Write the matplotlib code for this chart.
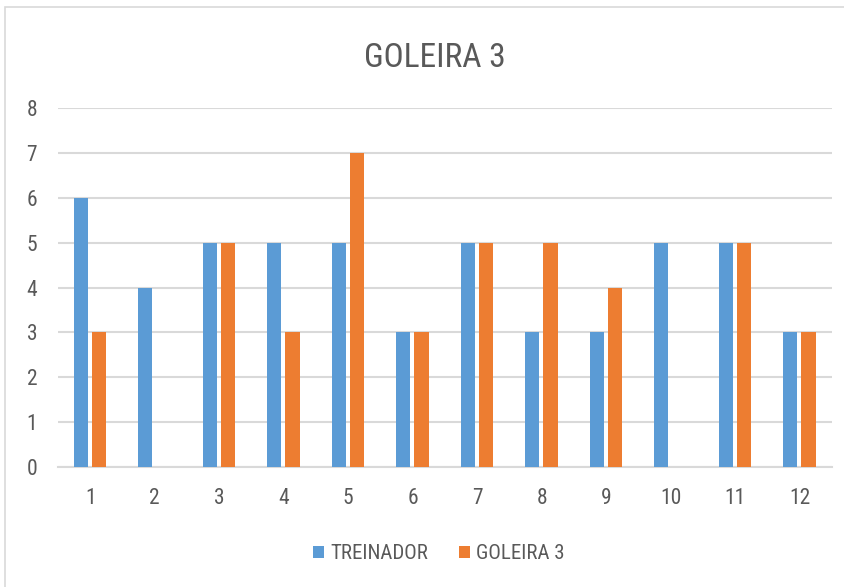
import numpy as np
import matplotlib
matplotlib.use("Agg")
import matplotlib.pyplot as plt
from matplotlib.patches import Rectangle

categories = ["1", "2", "3", "4", "5", "6", "7", "8", "9", "10", "11", "12"]
treinador = [6, 4, 5, 5, 5, 3, 5, 3, 3, 5, 5, 3]
goleira = [3, 0, 5, 3, 7, 3, 5, 5, 4, 0, 5, 3]

BLUE = "#5B9BD5"
ORANGE = "#ED7D31"
TEXT = "#595959"
GRID = "#D9D9D9"

plt.rcParams['font.family'] = ['Roboto Condensed', 'Open Sans Condensed',
                               'Archivo Narrow', 'DejaVu Sans']

fig = plt.figure(figsize=(8.45, 5.87), dpi=100)
fig.patches.append(Rectangle((5 / 845, -0.1), 1.2, 1 - 7 / 587 + 0.1,
                             transform=fig.transFigure, fill=False,
                             edgecolor=GRID, linewidth=1.2))

ax = fig.add_axes([58 / 845, 1 - 467 / 587, 774 / 845, (467 - 108) / 587])
x = np.arange(1, len(categories) + 1)
w = 0.22
ax.bar(x - 0.145, treinador, width=w, color=BLUE, label="TREINADOR", zorder=3)
ax.bar(x + 0.135, goleira, width=w, color=ORANGE, label="GOLEIRA 3", zorder=3)

ax.set_xlim(0.5, 12.5)
ax.set_ylim(0, 8)
ax.set_yticks(range(0, 9))
ax.set_xticks(x)
ax.set_xticklabels(categories)
ax.yaxis.grid(True, color=GRID, linewidth=1.5, zorder=0)
for s in ax.spines.values():
    s.set_visible(False)
ax.spines['bottom'].set_visible(True)
ax.spines['bottom'].set_color(GRID)
ax.spines['bottom'].set_linewidth(1.5)
ax.tick_params(length=0, colors=TEXT, labelsize=15.5)
ax.tick_params(axis='x', pad=15)
ax.tick_params(axis='y', pad=15)

fig.text(435 / 845, 1 - 67 / 587, "GOLEIRA 3", ha='center', va='baseline',
         fontsize=24, color=TEXT)

leg = ax.legend(loc='center', bbox_to_anchor=(0.492, -0.242), ncol=2,
                frameon=False, fontsize=15, handlelength=0.5, handleheight=0.5,
                columnspacing=1.5, handletextpad=0.3, labelcolor=TEXT)

fig.savefig("out.png", dpi=100)
